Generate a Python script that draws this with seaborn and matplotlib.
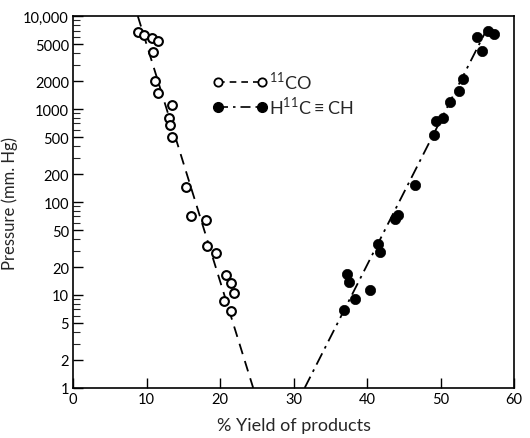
import numpy as np
import pandas as pd
import matplotlib
matplotlib.use('Agg')
import matplotlib.pyplot as plt
import matplotlib.ticker as mticker
from matplotlib.lines import Line2D
import seaborn as sns

# Data
co_yield = [8.8, 9.7, 10.7, 11.5, 10.8, 11.2, 11.6, 13.5, 13.0, 13.2, 13.5,
            15.3, 16.1, 18.1, 18.2, 19.5, 20.8, 21.5, 21.9, 20.5, 21.5]
co_pressure = [6700, 6250, 5800, 5400, 4100, 2000, 1500, 1100, 800, 680, 500,
               145, 71, 64, 34, 28, 16.5, 13.5, 10.5, 8.6, 6.7]

c2h2_yield = [36.8, 38.4, 40.4, 37.6, 37.2, 41.8, 41.5, 43.8, 44.2, 46.5,
              49.1, 49.4, 50.3, 51.3, 52.5, 53.0, 55.6, 55.0, 56.5, 57.2]
c2h2_pressure = [6.9, 9.1, 11.3, 13.8, 16.8, 29, 35, 66, 72, 152,
                 520, 750, 800, 1190, 1560, 2100, 4200, 5950, 6900, 6400]

# Fitted lines (end points)
co_fit_yield = [8.8, 24.5]
co_fit_pressure = [10000, 1]
c2h2_fit_yield = [31.5, 56.2]
c2h2_fit_pressure = [1, 7000]

y_major = [1, 2, 5, 10, 20, 50, 100, 200, 500, 1000, 2000, 5000, 10000]
y_labels = ['1', '2', '5', '10', '20', '50', '100', '200', '500', '1000',
            '2000', '5000', '10,000']
x_ticks = [0, 10, 20, 30, 40, 50, 60]

sns.set_style('ticks')
plt.rcParams['font.family'] = ['Lato', 'DejaVu Sans']
plt.rcParams['mathtext.fontset'] = 'custom'
plt.rcParams['mathtext.rm'] = 'Lato'

fig = plt.figure(figsize=(5.30, 4.39), dpi=100)
ax = fig.add_axes([0.138, 0.114, 0.832, 0.847])

co = pd.DataFrame({'yield': co_yield, 'pressure': co_pressure})
c2 = pd.DataFrame({'yield': c2h2_yield, 'pressure': c2h2_pressure})

# Fit lines
sns.lineplot(x=co_fit_yield, y=co_fit_pressure, ax=ax, color='black',
             linewidth=1.3, zorder=1)
ax.lines[-1].set_dashes([6, 4])
sns.lineplot(x=c2h2_fit_yield, y=c2h2_fit_pressure, ax=ax, color='black',
             linewidth=1.3, zorder=1)
ax.lines[-1].set_dashes([7, 3, 1.5, 3])

# Points
sns.scatterplot(data=co, x='yield', y='pressure', ax=ax, marker='o',
                s=40, facecolor='white', edgecolor='black', linewidth=1.5,
                zorder=3)
sns.scatterplot(data=c2, x='yield', y='pressure', ax=ax, marker='o',
                s=55, color='black', edgecolor='black', linewidth=0.5,
                zorder=3)

ax.set_yscale('log')
ax.set_xlim(0, 60)
ax.set_ylim(1, 10000)
ax.yaxis.set_major_locator(mticker.FixedLocator(y_major))
ax.yaxis.set_major_formatter(mticker.FixedFormatter(y_labels))
ax.yaxis.set_minor_locator(mticker.LogLocator(base=10, subs=[3, 4, 6, 7, 8, 9]))
ax.yaxis.set_minor_formatter(mticker.NullFormatter())
ax.set_xticks(x_ticks)

ax.tick_params(axis='both', which='major', direction='in', length=7,
               width=1.0, labelsize=10.5, colors='black', pad=3)
ax.tick_params(axis='y', which='minor', direction='in', length=5, width=0.8)
for s in ax.spines.values():
    s.set_linewidth(1.2)
    s.set_color('black')

ax.set_xlabel('% Yield of products', fontsize=13, labelpad=8)
ax.set_ylabel('Pressure (mm. Hg)', fontsize=12, labelpad=4)

# Legend
h1 = Line2D([], [], color='black', linestyle=(0, (4, 3)), linewidth=1.2,
            marker='o', markersize=6, markerfacecolor='white',
            markeredgecolor='black', markeredgewidth=1.3)
h2 = Line2D([], [], color='black', linestyle=(0, (6, 3, 1.5, 3)), linewidth=1.2,
            marker='o', markersize=7, markerfacecolor='black',
            markeredgecolor='black')
ax.legend([h1, h2], [r'$^{11}$CO', r'H$^{11}$C$\equiv$CH'],
          loc='upper left', bbox_to_anchor=(0.28, 0.9), frameon=False,
          numpoints=2, handlelength=3.0, handletextpad=0.1,
          labelspacing=0.15, fontsize=13)

plt.savefig('out.png', dpi=100)
